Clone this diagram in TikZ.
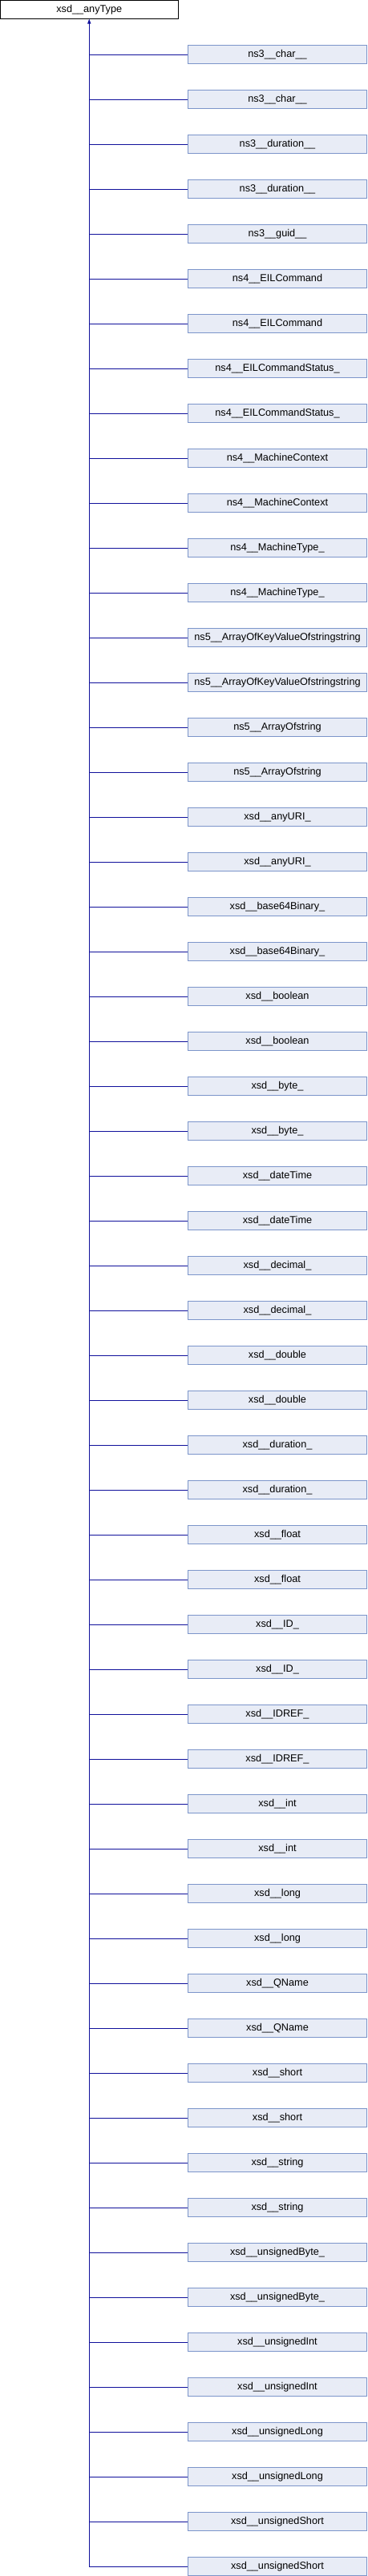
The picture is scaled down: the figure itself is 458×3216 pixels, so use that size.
\documentclass[tikz,border=0pt]{standalone}
\usepackage{fontspec}
\setmainfont{Liberation Sans}
\usepackage{xcolor}
\definecolor{colorBoxFill}{RGB}{232,236,246}
\definecolor{colorBoxLine}{RGB}{124,149,202}
\definecolor{colorLink}{RGB}{16,16,155}
\usepackage{tikz}
\usetikzlibrary{arrows.meta, positioning}
\tikzset{
  typebox/.style={draw=black, fill=white, line width=1pt, inner sep=0pt,
    minimum width=221.5pt, minimum height=22.5pt, font=\fontsize{12.7}{14}\selectfont},
  childbox/.style={draw=colorBoxLine, fill=colorBoxFill, line width=1pt, inner sep=0pt,
    minimum width=223pt, minimum height=23pt, font=\fontsize{12.7}{14}\selectfont},
  link/.style={draw=colorLink, line width=1pt}
}

\begin{document}
\begin{tikzpicture}[x=1pt, y=1pt]
\useasboundingbox (0,0) rectangle (458,-3216);
\node[typebox] (base) at (111.25,-11.75) {xsd\_\_anyType};
% derived classes, one row each
\foreach \name [count=\i from 0] in {
  ns3\_\_char\_\_, ns3\_\_char\_\_, ns3\_\_duration\_\_, ns3\_\_duration\_\_, ns3\_\_guid\_\_,
  ns4\_\_EILCommand, ns4\_\_EILCommand, ns4\_\_EILCommandStatus\_, ns4\_\_EILCommandStatus\_,
  ns4\_\_MachineContext, ns4\_\_MachineContext, ns4\_\_MachineType\_, ns4\_\_MachineType\_,
  ns5\_\_ArrayOfKeyValueOfstringstring, ns5\_\_ArrayOfKeyValueOfstringstring,
  ns5\_\_ArrayOfstring, ns5\_\_ArrayOfstring, xsd\_\_anyURI\_, xsd\_\_anyURI\_,
  xsd\_\_base64Binary\_, xsd\_\_base64Binary\_, xsd\_\_boolean, xsd\_\_boolean,
  xsd\_\_byte\_, xsd\_\_byte\_, xsd\_\_dateTime, xsd\_\_dateTime,
  xsd\_\_decimal\_, xsd\_\_decimal\_, xsd\_\_double, xsd\_\_double,
  xsd\_\_duration\_, xsd\_\_duration\_, xsd\_\_float, xsd\_\_float,
  xsd\_\_ID\_, xsd\_\_ID\_, xsd\_\_IDREF\_, xsd\_\_IDREF\_, xsd\_\_int, xsd\_\_int,
  xsd\_\_long, xsd\_\_long, xsd\_\_QName, xsd\_\_QName, xsd\_\_short, xsd\_\_short,
  xsd\_\_string, xsd\_\_string, xsd\_\_unsignedByte\_, xsd\_\_unsignedByte\_,
  xsd\_\_unsignedInt, xsd\_\_unsignedInt, xsd\_\_unsignedLong, xsd\_\_unsignedLong,
  xsd\_\_unsignedShort, xsd\_\_unsignedShort} {
  \node[childbox] (c\i) at (346,-68-56*\i) {\name};
  \draw[link] (base.south |- c\i.west) -- (c\i.west);
}
% trunk up to the base class
\draw[link, -{Triangle[width=4pt, length=6pt]}] (base.south |- c56.west) -- (base.south);
\end{tikzpicture}
\end{document}
